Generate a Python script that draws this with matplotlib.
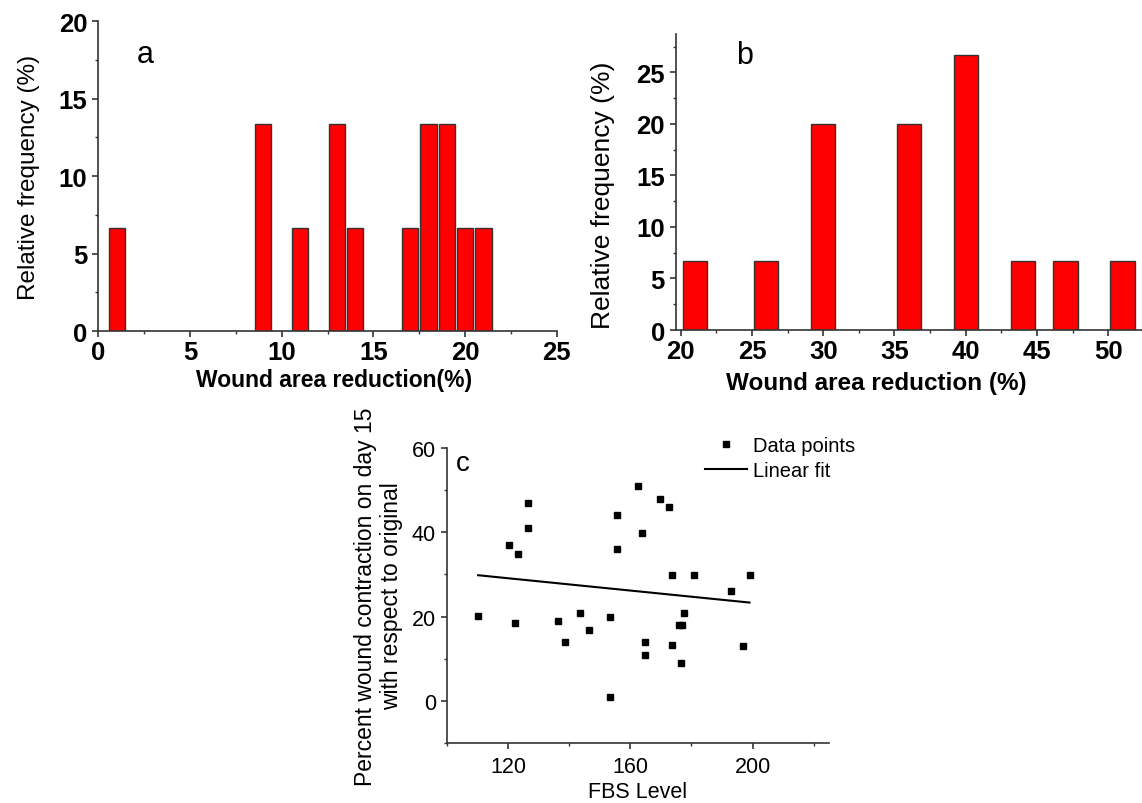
import numpy as np
import matplotlib.pyplot as plt
from matplotlib.ticker import MultipleLocator

plt.rcParams.update({
    "font.family": ["Liberation Sans", "DejaVu Sans"],
    "xtick.direction": "out",
    "ytick.direction": "out",
    "axes.edgecolor": "0.2",
    "xtick.color": "0.2",
    "ytick.color": "0.2",
    "xtick.labelcolor": "black",
    "ytick.labelcolor": "black",
    "axes.linewidth": 1.2,
    "xtick.major.width": 1.2,
    "ytick.major.width": 1.2,
    "xtick.minor.width": 1.0,
    "ytick.minor.width": 1.0,
    "xtick.major.size": 4.5,
    "ytick.major.size": 4.5,
    "xtick.minor.size": 2.5,
    "ytick.minor.size": 2.5,
})

# (a) wound area reduction histogram, first group
a_bins = [1, 9, 11, 13, 14, 17, 18, 19, 20, 21]
a_freq = [6.67, 13.33, 6.67, 13.33, 6.67, 6.67, 13.33, 13.33, 6.67, 6.67]

# (b) wound area reduction histogram, second group
b_bins = [21, 26, 30, 36, 40, 44, 47, 51]
b_freq = [6.67, 6.67, 20.0, 20.0, 26.67, 6.67, 6.67, 6.67]

# (c) wound contraction vs FBS level
fbs = [110.2, 120.3, 123.4, 122.2, 126.4, 126.4, 136.4, 138.5, 143.5, 146.5,
       153.5, 153.5, 155.6, 155.6, 162.6, 163.7, 164.7, 164.7, 169.6, 172.7,
       173.7, 173.7, 175.8, 177.0, 177.7, 176.7, 180.7, 192.8, 196.8, 199.0]
contraction = [20.2, 37.0, 34.9, 18.5, 46.9, 41.0, 18.9, 14.0, 20.9, 16.9,
               19.9, 1.0, 44.0, 36.0, 51.0, 39.9, 14.0, 10.9, 47.9, 46.0,
               29.9, 13.2, 17.9, 17.9, 20.9, 9.0, 29.9, 26.0, 12.9, 29.9]
fit_intercept = 37.85
fit_slope = -0.073

BAR_RED = "#ff0000"
BAR_EDGE = "0.2"


def style_hist_axis(ax, ylabel_size):
    ax.spines["top"].set_visible(False)
    ax.spines["right"].set_visible(False)
    for lab in ax.get_xticklabels() + ax.get_yticklabels():
        lab.set_fontweight("bold")
        lab.set_fontsize(18.5)
    ax.tick_params(axis="x", pad=2)
    ax.set_ylabel("Relative frequency (%)", fontsize=ylabel_size)


fig = plt.figure(figsize=(11.42, 8.04), dpi=100)

# panel a
ax_a = fig.add_axes([0.0861, 0.587, 0.4015, 0.3856])
ax_a.bar(a_bins, a_freq, width=0.88, color=BAR_RED, edgecolor=BAR_EDGE, linewidth=1.0)
ax_a.set_xlim(0, 25)
ax_a.set_ylim(0, 20)
ax_a.xaxis.set_major_locator(MultipleLocator(5))
ax_a.xaxis.set_minor_locator(MultipleLocator(2.5))
ax_a.yaxis.set_major_locator(MultipleLocator(5))
ax_a.yaxis.set_minor_locator(MultipleLocator(2.5))
style_hist_axis(ax_a, 17.5)
ax_a.yaxis.set_label_coords(-0.128, 0.5)
ax_a.set_xlabel("Wound area reduction(%)", fontsize=16.5, fontweight="bold")
ax_a.xaxis.set_label_coords(0.515, -0.12)
ax_a.text(2.55, 17.9, "a", fontsize=22, ha="center", va="center")

# panel b
ax_b = fig.add_axes([0.592, 0.5883, 0.408, 0.368])
ax_b.bar(b_bins, b_freq, width=1.7, color=BAR_RED, edgecolor=BAR_EDGE, linewidth=1.0)
ax_b.set_xlim(19.67, 52.37)
ax_b.set_ylim(0, 28.7)
ax_b.xaxis.set_major_locator(MultipleLocator(5))
ax_b.xaxis.set_minor_locator(MultipleLocator(2.5))
ax_b.yaxis.set_major_locator(MultipleLocator(5))
ax_b.yaxis.set_minor_locator(MultipleLocator(2.5))
style_hist_axis(ax_b, 19)
ax_b.yaxis.set_label_coords(-0.13, 0.46)
ax_b.set_xlabel("Wound area reduction (%)", fontsize=17.5, fontweight="bold")
ax_b.xaxis.set_label_coords(0.43, -0.14)
ax_b.text(24.5, 26.7, "b", fontsize=22, ha="center", va="center")

# panel c
ax_c = fig.add_axes([0.3914, 0.0746, 0.3345, 0.367])
ax_c.plot(fbs, contraction, "s", color="black", markersize=5, label="Data points")
x_fit = np.array([min(fbs), max(fbs)])
ax_c.plot(x_fit, fit_intercept + fit_slope * x_fit, "-", color="black", linewidth=1.5,
          label="Linear fit")
ax_c.set_xlim(100, 225)
ax_c.set_ylim(-10, 60)
ax_c.xaxis.set_major_locator(MultipleLocator(40))
ax_c.xaxis.set_minor_locator(MultipleLocator(20))
ax_c.yaxis.set_major_locator(MultipleLocator(20))
ax_c.yaxis.set_minor_locator(MultipleLocator(10))
ax_c.spines["top"].set_visible(False)
ax_c.spines["right"].set_visible(False)
ax_c.tick_params(labelsize=15.5)
ax_c.tick_params(axis="x", pad=5)
ax_c.set_xlabel("FBS Level", fontsize=15.5, labelpad=3)
ax_c.set_ylabel("Percent wound contraction on day 15\nwith respect to original",
                fontsize=16.5, labelpad=6)
ax_c.text(105.2, 56.4, "c", fontsize=20, ha="center", va="center")
ax_c.legend(loc="upper left", bbox_to_anchor=(0.61, 0.467), bbox_transform=fig.transFigure,
            frameon=False, fontsize=14.5, handlelength=2.1, handletextpad=0.3,
            labelspacing=0.3, borderaxespad=0)

fig.savefig("out.png", dpi=100)
